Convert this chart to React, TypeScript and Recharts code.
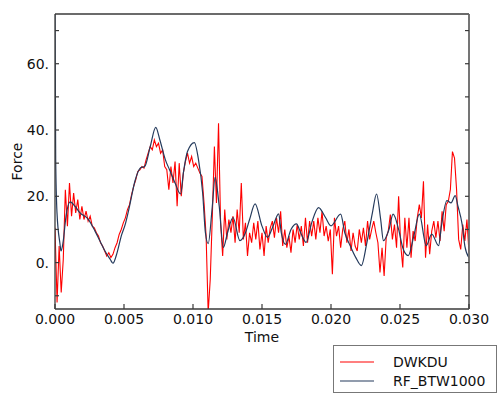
import { LineChart, Line, XAxis, YAxis } from "recharts";

// DWKDU force, sampled every redStep seconds starting at t = 0
const redStep = 0.00015;
const redForce = [
  10.5, -12, 5, -9, 1, 22, 11, 24, 14, 21,
  15, 19, 13, 17, 13, 15.5, 12.5, 14, 11, 10.5,
  9, 8, 6, 5, 3.5, 2, 3, 1.5, 2.5, 4.5,
  6, 8.5, 10, 12, 13.5, 16, 17.5, 20.5, 23, 25,
  27.5, 28, 29, 28.5, 31, 33, 35, 34, 37, 35,
  36, 33, 34, 29, 28, 22, 29, 24, 30.5, 17,
  30, 20, 27, 30.5, 33, 30, 32, 29, 30, 28.5,
  27, 26, 18, 8, -15, -5, 14, 35, 18, 42,
  12, 2, 16, 7, 13, 9, 14, 6, 16, 9,
  24, 7, 12, 2, 9, 6, 12, 7, 12.5, 4,
  9, 2, 11, 6, 10.5, 12.5, 7.5, 13.5, 9, 15.5,
  5, 10, 4.5, 8, 3, 10, 6, 11.5, 7, 11,
  5, 13.5, 6, 12.5, 8, 12.5, 7, 13.5, 9, 15.5,
  8, 11, 6.5, 10, -3.5, 13.5, 8, 11, 4.5, 10,
  12.5, 6, 10, 3.5, 9, 5, 3.5, 10, 6, 10.5,
  5, 12.5, 7, 10, 12.5, 9, 6, -3, 4.5, -4,
  7.5, 9.5, 14.5, 7, 11.5, 4.5, 20, 5.5, -1.5, 13.5,
  4.5, 13.5, 1.5, 9.5, 6.5, 13.5, 17.5, 13.5, 24.5, 1.5,
  11.5, 2.5, 9.5, 12.5, 7.5, 12.5, 6.5, 15.5, 9.5, 17.5,
  18.5, 22, 33.5, 31.5, 22, 7, 4, 11.5, 6.5, 13,
  3,
];

// RF_BTW1000
const blueTime = [
  0, 0.00005, 0.000145, 0.00036, 0.000435, 0.00058, 0.0008, 0.00109, 0.00145, 0.00181,
  0.00239, 0.0029, 0.00326, 0.00362, 0.004, 0.0042, 0.0045, 0.0048, 0.0051, 0.0054,
  0.0058, 0.0062, 0.0065, 0.0069, 0.0073, 0.0076, 0.008, 0.0083, 0.0087, 0.0091,
  0.0093, 0.0096, 0.0101, 0.0104, 0.0107, 0.0109, 0.0111, 0.0114, 0.0116, 0.0119,
  0.0122, 0.0125, 0.0129, 0.0134, 0.0138, 0.0141, 0.0145, 0.015, 0.0154, 0.0158,
  0.0162, 0.0164, 0.0167, 0.0171, 0.0175, 0.0178, 0.0182, 0.0186, 0.0191, 0.0196,
  0.02, 0.0207, 0.021, 0.0214, 0.0218, 0.0222, 0.0226, 0.023, 0.0233, 0.0236,
  0.0238, 0.0242, 0.0245, 0.0249, 0.0252, 0.0256, 0.026, 0.0264, 0.0269, 0.0273,
  0.0278, 0.028, 0.0284, 0.0287, 0.029, 0.0292, 0.0295, 0.0297, 0.03,
];
const blueForce = [
  76, 31, 15, 5.7, 3.5, 6, 14, 18.3, 17, 15,
  13.2, 9.5, 6.5, 3.5, 1, -0.2, 3, 8, 11.7, 17,
  24.7, 28.6, 29, 35, 40.8, 37, 31, 28, 24, 20.7,
  27, 33.5, 36.2, 31, 21, 9, 5.7, 17, 25.7, 17,
  4.6, 9, 13.6, 6.6, 9, 13, 17.7, 11, 7.6, 11,
  14.7, 9, 5.5, 10, 11.7, 9, 6.1, 12, 16.6, 13.6,
  11.1, 14.6, 9, 5, 1.5, -0.9, 6, 15, 20.7, 13,
  6.6, 10, 14.6, 10, 4.5, 2.1, 8, 14.6, 5.1, 8.6,
  5.1, 11, 18.7, 18, 20.2, 17, 11.6, 5, 1.5,
];

const timeTicks = [
  0, 0.0025, 0.005, 0.0075, 0.01, 0.0125, 0.015, 0.0175, 0.02, 0.0225, 0.025, 0.0275, 0.03,
];
const forceTicks = [-10, 0, 10, 20, 30, 40, 50, 60, 70];

const redData = redForce.map((f, i) => ({ t: i * redStep, f }));
const blueData = blueTime.map((t, i) => ({ t, f: blueForce[i] }));

const FONT = "'DejaVu Sans', Verdana, sans-serif";
const AXIS = "#3a3a3a";
const RED = "#ff0000";
const BLUE = "#243a5c";

const isMajorTime = (v: number) => Math.abs(v / 0.005 - Math.round(v / 0.005)) < 1e-6;

function BottomTick({ x, y, payload }: any) {
  return (
    <g>
      <line x1={x} y1={y} x2={x} y2={y - 5} stroke={AXIS} strokeWidth={1.2} />
      {isMajorTime(payload.value) && (
        <text x={x} y={y + 10} textAnchor="middle" dominantBaseline="central" fontSize={14} fontFamily={FONT} fill="#111">
          {payload.value.toFixed(3)}
        </text>
      )}
    </g>
  );
}

function TopTick({ x, y }: any) {
  return <line x1={x} y1={y} x2={x} y2={y + 5} stroke={AXIS} strokeWidth={1.2} />;
}

function LeftTick({ x, y, payload }: any) {
  return (
    <g>
      <line x1={x} y1={y} x2={x + 4} y2={y} stroke={AXIS} strokeWidth={1.2} />
      {payload.value % 20 === 0 && payload.value >= 0 && (
        <text x={x - 6} y={y} textAnchor="end" dominantBaseline="central" fontSize={14} fontFamily={FONT} fill="#111">
          {payload.value}.
        </text>
      )}
    </g>
  );
}

function RightTick({ x, y }: any) {
  return <line x1={x} y1={y} x2={x - 4} y2={y} stroke={AXIS} strokeWidth={1.2} />;
}

const legendItems = [
  { name: "DWKDU", color: RED },
  { name: "RF_BTW1000", color: BLUE },
];

export default function App() {
  return (
    <div style={{ position: "absolute", left: 0, top: 0, width: 500, height: 397, background: "#fff" }}>
      <LineChart width={500} height={397} margin={{ top: 0, right: 0, bottom: 0, left: 0 }}>
        <XAxis
          dataKey="t"
          type="number"
          domain={[0, 0.03]}
          ticks={timeTicks}
          allowDataOverflow
          height={88}
          tickSize={0}
          tickMargin={0}
          tick={<BottomTick />}
          stroke={AXIS}
          strokeWidth={1.3}
          label={{ value: "Time", position: "insideTop", offset: 23, fontSize: 14, fontFamily: FONT, fill: "#111" }}
        />
        <XAxis
          xAxisId="top"
          orientation="top"
          type="number"
          domain={[0, 0.03]}
          ticks={timeTicks}
          allowDataOverflow
          height={14}
          tickSize={0}
          tickMargin={0}
          tick={<TopTick />}
          stroke={AXIS}
          strokeWidth={1.3}
        />
        <YAxis
          type="number"
          domain={[-14, 75]}
          ticks={forceTicks}
          allowDataOverflow
          width={55}
          tickSize={0}
          tickMargin={0}
          tick={<LeftTick />}
          stroke={AXIS}
          strokeWidth={1.3}
          label={{
            value: "Force",
            angle: -90,
            position: "insideLeft",
            offset: 17,
            fontSize: 14,
            fontFamily: FONT,
            fill: "#111",
            style: { textAnchor: "middle" },
          }}
        />
        <YAxis
          yAxisId="right"
          orientation="right"
          type="number"
          domain={[-14, 75]}
          ticks={forceTicks}
          allowDataOverflow
          width={31}
          tickSize={0}
          tickMargin={0}
          tick={<RightTick />}
          stroke="#666"
          strokeWidth={1.8}
        />
        <Line data={redData} dataKey="f" type="linear" stroke={RED} strokeWidth={1.1} dot={false} isAnimationActive={false} />
        <Line data={blueData} dataKey="f" type="monotone" stroke={BLUE} strokeWidth={1.2} dot={false} isAnimationActive={false} />
      </LineChart>
      <svg
        width={164}
        height={48}
        style={{ position: "absolute", left: 333, top: 345 }}
        fontFamily={FONT}
        fontSize={14}
      >
        <rect x={0.5} y={0.5} width={163} height={47} fill="#fff" stroke="#777" />
        {legendItems.map((s, i) => (
          <g key={s.name}>
            <line x1={7} x2={41} y1={17 + i * 19} y2={17 + i * 19} stroke={s.color} strokeWidth={1.2} />
            <text x={60} y={17 + i * 19} dominantBaseline="central" fill="#111">
              {s.name}
            </text>
          </g>
        ))}
      </svg>
    </div>
  );
}
